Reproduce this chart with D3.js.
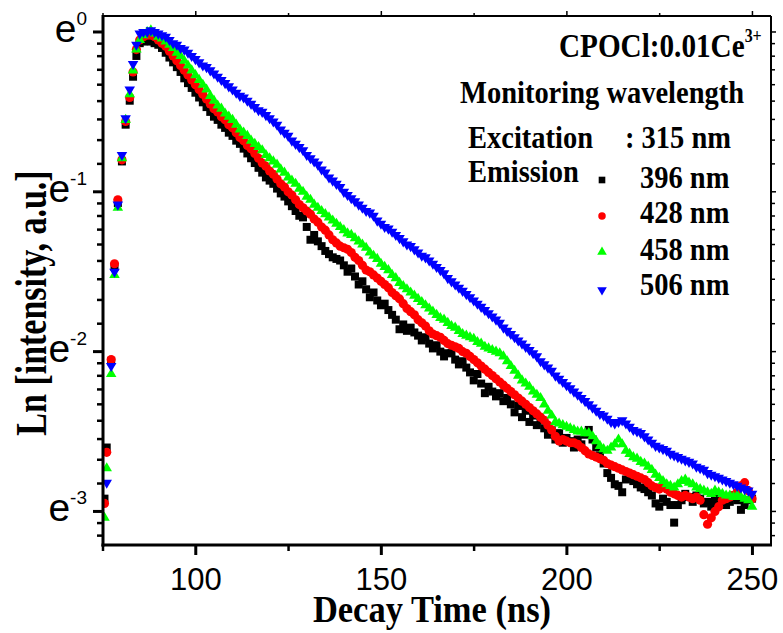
<!DOCTYPE html>
<meta charset="utf-8">
<script src="https://d3js.org/d3.v7.min.js"></script>
<style>
	body{margin:0;background:#fff;}
	svg text{font-family:'Liberation Serif','Times New Roman',serif;font-weight:bold;fill:#000;}
	.num{font-family:'Liberation Sans',Arial,sans-serif;font-weight:normal;}
</style>
<div id="chart"></div>
<script>
// decay time (ns), channels of the TCSPC trace
var time = [75.4,76.0,77.2,78.1,79.0,80.1,81.1,82.2,83.1,84.0,84.9,
	85.9,86.9,87.9,88.9,89.9,
	90.9,91.9,92.9,93.9,94.9,95.9,96.9,97.9,98.9,99.9,
	100.9,101.9,102.9,103.9,104.9,105.9,106.9,107.9,108.9,109.9,
	110.9,111.9,112.9,113.9,114.9,115.9,116.9,117.9,118.9,119.9,
	120.9,121.9,122.9,123.9,124.9,125.9,126.9,127.9,128.9,129.9,
	130.9,131.9,132.9,133.9,134.9,135.9,136.9,137.9,138.9,139.9,
	140.9,141.9,142.9,143.9,144.9,145.9,146.9,147.9,148.9,149.9,
	150.9,151.9,152.9,153.9,154.9,155.9,156.9,157.9,158.9,159.9,
	160.9,161.9,162.9,163.9,164.9,165.9,166.9,167.9,168.9,169.9,
	170.9,171.9,172.9,173.9,174.9,175.9,176.9,177.9,178.9,179.9,
	180.9,181.9,182.9,183.9,184.9,185.9,186.9,187.9,188.9,189.9,
	190.9,191.9,192.9,193.9,194.9,195.9,196.9,197.9,198.9,199.9,
	200.9,201.9,202.9,203.9,204.9,205.9,206.9,207.9,208.9,209.9,
	210.9,211.9,212.9,213.9,214.9,215.9,216.9,217.9,218.9,219.9,
	220.9,221.9,222.9,223.9,224.9,225.9,226.9,227.9,228.9,229.9,
	230.9,231.9,232.9,233.9,234.9,235.9,236.9,237.9,238.9,239.9,
	240.9,241.9,242.9,243.9,244.9,245.9,246.9,247.9,248.9,249.9]

// ln(intensity) for each emission wavelength
var em396 = [-2.92,-2.60,-2.06,-1.47,-1.07,-0.81,-0.58,-0.43,-0.28,-0.15,-0.07,
	-0.06,-0.05,-0.06,-0.07,-0.08,
	-0.10,-0.13,-0.16,-0.19,-0.22,-0.25,-0.29,-0.32,-0.35,-0.38,
	-0.41,-0.44,-0.47,-0.50,-0.53,-0.55,-0.58,-0.60,-0.63,-0.65,
	-0.68,-0.70,-0.73,-0.76,-0.79,-0.82,-0.85,-0.88,-0.91,-0.93,
	-0.95,-0.98,-1.01,-1.03,-1.06,-1.09,-1.12,-1.15,-1.16,-1.22,
	-1.30,-1.27,-1.31,-1.34,-1.37,-1.39,-1.41,-1.42,-1.43,-1.46,
	-1.50,-1.48,-1.53,-1.58,-1.56,-1.61,-1.66,-1.63,-1.68,-1.71,
	-1.70,-1.74,-1.77,-1.80,-1.86,-1.83,-1.87,-1.85,-1.88,-1.90,
	-1.93,-1.91,-1.95,-1.98,-1.96,-2.00,-2.03,-2.01,-2.01,-2.05,
	-2.08,-2.06,-2.10,-2.13,-2.18,-2.14,-2.20,-2.26,-2.22,-2.25,
	-2.28,-2.26,-2.31,-2.29,-2.33,-2.38,-2.34,-2.41,-2.37,-2.44,
	-2.40,-2.46,-2.43,-2.48,-2.52,-2.49,-2.55,-2.51,-2.57,-2.54,
	-2.56,-2.60,-2.55,-2.58,-2.52,-2.49,-2.55,-2.60,-2.65,-2.70,
	-2.76,-2.79,-2.83,-2.84,-2.88,-2.80,-2.78,-2.81,-2.83,-2.85,
	-2.86,-2.88,-2.90,-2.95,-2.97,-2.92,-2.94,-2.96,-3.07,-2.96,
	-2.93,-2.89,-2.91,-2.94,-2.90,-2.92,-2.95,-2.94,-2.97,-2.93,
	-2.92,-2.95,-2.96,-2.94,-2.90,-2.93,-2.99,-2.96,-2.93,-2.92]

var em428 = [-2.95,-2.63,-2.05,-1.45,-1.05,-0.80,-0.56,-0.41,-0.25,-0.11,-0.05,
	-0.03,-0.02,-0.02,-0.03,-0.05,
	-0.07,-0.09,-0.12,-0.15,-0.18,-0.21,-0.24,-0.27,-0.30,-0.33,
	-0.36,-0.39,-0.42,-0.45,-0.48,-0.50,-0.53,-0.55,-0.58,-0.60,
	-0.63,-0.66,-0.68,-0.71,-0.73,-0.76,-0.79,-0.82,-0.84,-0.87,
	-0.89,-0.92,-0.95,-0.97,-1.00,-1.02,-1.05,-1.08,-1.10,-1.12,
	-1.14,-1.17,-1.19,-1.22,-1.24,-1.27,-1.30,-1.32,-1.34,-1.35,
	-1.36,-1.38,-1.41,-1.43,-1.46,-1.49,-1.50,-1.52,-1.54,-1.56,
	-1.58,-1.60,-1.63,-1.65,-1.67,-1.70,-1.73,-1.75,-1.77,-1.80,
	-1.82,-1.84,-1.87,-1.89,-1.90,-1.91,-1.93,-1.95,-1.96,-1.97,
	-1.98,-2.00,-2.01,-2.03,-2.05,-2.07,-2.09,-2.11,-2.13,-2.15,
	-2.17,-2.19,-2.21,-2.23,-2.25,-2.27,-2.29,-2.31,-2.33,-2.35,
	-2.37,-2.39,-2.41,-2.43,-2.46,-2.49,-2.53,-2.56,-2.55,-2.56,
	-2.57,-2.57,-2.58,-2.60,-2.62,-2.64,-2.65,-2.66,-2.67,-2.68,
	-2.70,-2.71,-2.72,-2.73,-2.74,-2.75,-2.76,-2.77,-2.78,-2.79,
	-2.80,-2.82,-2.84,-2.85,-2.86,-2.84,-2.86,-2.88,-2.89,-2.90,
	-2.91,-2.90,-2.91,-2.92,-2.91,-2.93,-3.02,-3.08,-3.04,-3.00,
	-2.97,-2.93,-2.92,-2.91,-2.90,-2.88,-2.84,-2.82,-2.87,-2.92]

var em458 = [-3.04,-2.73,-2.14,-1.52,-1.10,-0.79,-0.55,-0.39,-0.24,-0.11,-0.05,
	-0.02,0.00,0.01,-0.01,-0.03,
	-0.04,-0.06,-0.08,-0.10,-0.13,-0.15,-0.18,-0.21,-0.24,-0.27,
	-0.30,-0.33,-0.36,-0.40,-0.43,-0.46,-0.48,-0.51,-0.53,-0.55,
	-0.58,-0.61,-0.63,-0.65,-0.68,-0.70,-0.72,-0.74,-0.77,-0.79,
	-0.81,-0.83,-0.86,-0.88,-0.91,-0.93,-0.95,-0.98,-1.00,-1.03,
	-1.05,-1.08,-1.10,-1.12,-1.14,-1.16,-1.18,-1.20,-1.22,-1.24,
	-1.26,-1.27,-1.29,-1.31,-1.33,-1.35,-1.38,-1.40,-1.42,-1.45,
	-1.47,-1.49,-1.52,-1.54,-1.57,-1.59,-1.61,-1.63,-1.65,-1.67,
	-1.69,-1.71,-1.73,-1.75,-1.77,-1.79,-1.80,-1.82,-1.84,-1.85,
	-1.87,-1.89,-1.90,-1.91,-1.92,-1.94,-1.95,-1.97,-1.98,-1.99,
	-2.00,-2.01,-2.03,-2.06,-2.09,-2.12,-2.15,-2.18,-2.20,-2.22,
	-2.25,-2.27,-2.29,-2.33,-2.37,-2.40,-2.44,-2.45,-2.46,-2.47,
	-2.48,-2.49,-2.50,-2.50,-2.51,-2.51,-2.53,-2.56,-2.59,-2.61,
	-2.62,-2.60,-2.58,-2.55,-2.58,-2.62,-2.64,-2.66,-2.67,-2.69,
	-2.70,-2.72,-2.74,-2.77,-2.79,-2.81,-2.83,-2.84,-2.85,-2.83,
	-2.81,-2.80,-2.82,-2.83,-2.85,-2.86,-2.87,-2.88,-2.89,-2.87,
	-2.88,-2.89,-2.90,-2.90,-2.91,-2.90,-2.91,-2.92,-2.93,-2.97]

var em506 = [-3.30,-2.82,-2.09,-1.50,-1.08,-0.77,-0.54,-0.36,-0.20,-0.08,-0.01,
	0.00,0.00,0.01,0.00,-0.01,
	-0.02,-0.03,-0.05,-0.07,-0.08,-0.10,-0.11,-0.13,-0.15,-0.17,
	-0.19,-0.21,-0.22,-0.24,-0.26,-0.28,-0.30,-0.32,-0.34,-0.36,
	-0.38,-0.40,-0.41,-0.43,-0.45,-0.47,-0.49,-0.50,-0.52,-0.54,
	-0.56,-0.58,-0.61,-0.63,-0.65,-0.68,-0.70,-0.72,-0.74,-0.77,
	-0.79,-0.81,-0.83,-0.86,-0.88,-0.91,-0.93,-0.95,-0.97,-1.00,
	-1.02,-1.04,-1.06,-1.08,-1.10,-1.12,-1.13,-1.15,-1.18,-1.20,
	-1.22,-1.23,-1.25,-1.27,-1.29,-1.31,-1.33,-1.34,-1.36,-1.38,
	-1.40,-1.41,-1.43,-1.45,-1.47,-1.49,-1.51,-1.54,-1.56,-1.58,
	-1.60,-1.62,-1.64,-1.66,-1.68,-1.70,-1.72,-1.74,-1.76,-1.78,
	-1.80,-1.82,-1.85,-1.87,-1.89,-1.91,-1.93,-1.95,-1.97,-1.99,
	-2.01,-2.03,-2.06,-2.08,-2.10,-2.12,-2.15,-2.17,-2.19,-2.21,
	-2.23,-2.25,-2.27,-2.29,-2.31,-2.33,-2.35,-2.37,-2.39,-2.40,
	-2.42,-2.44,-2.45,-2.44,-2.43,-2.45,-2.47,-2.49,-2.50,-2.51,
	-2.53,-2.55,-2.57,-2.59,-2.60,-2.61,-2.62,-2.64,-2.65,-2.66,
	-2.67,-2.68,-2.69,-2.70,-2.72,-2.73,-2.74,-2.76,-2.77,-2.78,
	-2.79,-2.80,-2.81,-2.82,-2.83,-2.84,-2.85,-2.86,-2.87,-2.89]

var labels = ["396 nm","428 nm","458 nm","506 nm"]
var colors = ["#000000","#ff0000","#00ff00","#0000ff"]
var xTicks = [100,150,200,250]
var xMinor = [75,125,175,225]
var yTicks = [0,-1,-2,-3]

var W = 783, H = 633
var pLeft = 103, pRight = 771, pTop = 16, pBottom = 545

var svg = d3.select("#chart").append("svg").attr("width",W).attr("height",H)

var x = d3.scaleLinear().domain([75,255]).range([pLeft,pRight])
var y = d3.scaleLinear().domain([-3.21,0.1]).range([pBottom,pTop])

// marker shapes
var shapes = [
	d3.symbol().type(d3.symbolSquare).size(64)(),
	d3.symbol().type(d3.symbolCircle).size(66)(),
	d3.symbol().type(d3.symbolTriangle).size(48)(),
	d3.symbol().type(d3.symbolTriangle).size(48)()
]
var rot = [0,0,0,180]

svg.append("clipPath").attr("id","plotClip").append("rect")
	.attr("x",pLeft).attr("y",pTop).attr("width",pRight-pLeft).attr("height",pBottom-pTop)

var allSeries = [em396,em428,em458,em506]
var plot = svg.append("g").attr("clip-path","url(#plotClip)")
allSeries.forEach(function(vals,s){
	plot.append("g").selectAll("path")
		.data(vals)
		.join("path")
		.attr("d",shapes[s])
		.attr("fill",colors[s])
		.attr("transform",function(d,i){
			return "translate("+x(time[i])+","+y(d)+") rotate("+rot[s]+")"
		})
})

// minor ticks of the ln axis: linear steps between e^(k-1) and e^k
var yMinor = []
for(var k=1;k>=-4;k--){
	var lo = Math.exp(k-1), hi = Math.exp(k)
	for(var j=1;j<9;j++){
		var v = Math.log(lo + j*(hi-lo)/9)
		if(v<0.1 && v>-3.21) yMinor.push(v)
	}
}

var axes = svg.append("g").attr("stroke","#000").attr("fill","none")
// frame
axes.append("line").attr("x1",pLeft).attr("x2",pRight).attr("y1",pTop).attr("y2",pTop).attr("stroke-width",2)
axes.append("line").attr("x1",pRight).attr("x2",pRight).attr("y1",pTop).attr("y2",pBottom).attr("stroke-width",2)
axes.append("line").attr("x1",pLeft-1.5).attr("x2",pRight+1).attr("y1",pBottom).attr("y2",pBottom).attr("stroke-width",3)
axes.append("line").attr("x1",pLeft).attr("x2",pLeft).attr("y1",pTop-1).attr("y2",pBottom+1.5).attr("stroke-width",3)

// x ticks, bottom and top
xTicks.forEach(function(t){
	axes.append("line").attr("x1",x(t)).attr("x2",x(t)).attr("y1",pBottom).attr("y2",pBottom+10).attr("stroke-width",3)
	axes.append("line").attr("x1",x(t)).attr("x2",x(t)).attr("y1",pTop).attr("y2",pTop-5).attr("stroke-width",1.5)
})
xMinor.forEach(function(t){
	axes.append("line").attr("x1",x(t)).attr("x2",x(t)).attr("y1",pBottom).attr("y2",pBottom+6).attr("stroke-width",2.5)
	axes.append("line").attr("x1",x(t)).attr("x2",x(t)).attr("y1",pTop).attr("y2",pTop-3).attr("stroke-width",1.5)
})
// y ticks, left and right
yTicks.forEach(function(v){
	axes.append("line").attr("x1",pLeft).attr("x2",pLeft-10).attr("y1",y(v)).attr("y2",y(v)).attr("stroke-width",3)
	axes.append("line").attr("x1",pRight).attr("x2",pRight+5).attr("y1",y(v)).attr("y2",y(v)).attr("stroke-width",1.5)
})
yMinor.forEach(function(v){
	axes.append("line").attr("x1",pLeft).attr("x2",pLeft-6).attr("y1",y(v)).attr("y2",y(v)).attr("stroke-width",2.5)
	axes.append("line").attr("x1",pRight).attr("x2",pRight+4).attr("y1",y(v)).attr("y2",y(v)).attr("stroke-width",1.5)
})

// tick labels
svg.append("g").selectAll("text").data(xTicks).join("text")
	.attr("class","num").attr("x",function(d){return x(d)}).attr("y",590)
	.attr("text-anchor","middle").style("font-size","31px").text(function(d){return d})

yTicks.forEach(function(v){
	var t = svg.append("text").attr("class","num").attr("x",87).attr("y",y(v)+10)
		.attr("text-anchor","end")
	t.append("tspan").style("font-size","39px").text("e")
	t.append("tspan").style("font-size","19px").attr("dy",-17).text(v==0 ? "0" : v)
})

// axis titles
svg.append("text").attr("transform","translate(432,622) scale(1,1.1)")
	.attr("text-anchor","middle").style("font-size","34.5px").text("Decay Time (ns)")
svg.append("text").attr("transform","translate(46,303) rotate(-90) scale(1,1.3)")
	.attr("text-anchor","middle").style("font-size","34px").text("Ln [intensity, a.u.]")

// annotation and legend
function label(str,px,py,size){
	return svg.append("text").attr("transform","translate("+px+","+py+") scale(1,1.14)")
		.style("font-size",size+"px").text(str)
}
var t1 = label("CPOCl:0.01Ce",559,57,29.2)
t1.append("tspan").style("font-size","16px").attr("dy",-13).text("3+")
label("Monitoring wavelength",460,103,28.5)
label("Excitation",468,148,28.5)
label(": 315 nm",625,148,28.5)
label("Emission",468,182,28.5)

var legY = [180,216,252,290]
var legText = [188,223,260,295]
labels.forEach(function(l,s){
	svg.append("path").attr("d",d3.symbol().type(s==1?d3.symbolCircle:(s==0?d3.symbolSquare:d3.symbolTriangle)).size(s==1?44:(s==0?44:40))())
		.attr("fill",colors[s])
		.attr("transform","translate(602,"+legY[s]+") rotate("+rot[s]+")")
	label(l,640,legText[s],28.5)
})
</script>
